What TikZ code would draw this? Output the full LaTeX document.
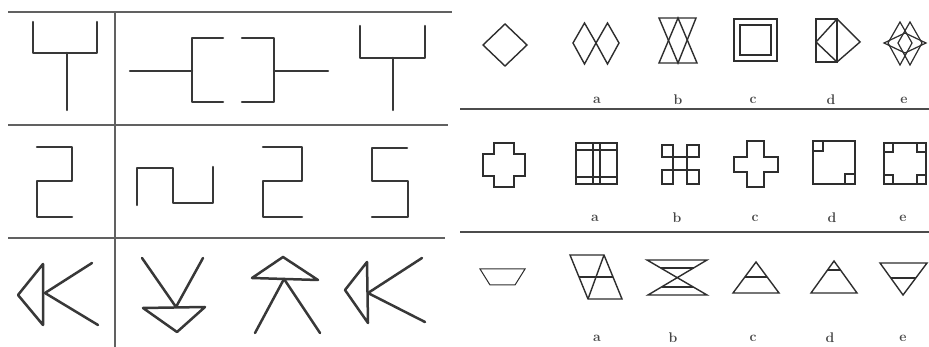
\documentclass[tikz,border=0pt]{standalone}
\begin{document}
\begin{tikzpicture}[x=1pt,y=-1pt,
  fig/.style={draw=black!78, line width=2.5pt, line cap=round, line join=round},
  rfig/.style={draw=black!82, line width=1.4pt, line join=miter},
  frame/.style={draw=black!62, line width=1.4pt},
  rframe/.style={draw=black!70, line width=2.8pt},
  lbl/.style={font=\fontsize{14}{15}\selectfont\bfseries, text=black!72, inner sep=0pt}]
\useasboundingbox (0,0) rectangle (929,347);
\fill[white] (0,0) rectangle (929,347);
% ---------- left panel frame ----------
\draw[frame] (8,12) -- (452,12);
\draw[frame] (8,125) -- (448,125);
\draw[frame] (8,238) -- (445,238);
\draw[frame] (115,12) -- (115,347);
% ---------- left row 1 ----------
\draw[fig] (33,22) -- (33,53) -- (97,53) -- (97,22);
\draw[fig] (67,53) -- (67,110);
\draw[fig] (130,71) -- (192,71);
\draw[fig] (223,38) -- (192,38) -- (192,102) -- (223,102);
\draw[fig] (242,38) -- (274,38) -- (274,102) -- (242,102);
\draw[fig] (274,71) -- (328,71);
\draw[fig] (360,26) -- (360,58) -- (425,58) -- (425,26);
\draw[fig] (393,58) -- (393,110);
% ---------- left row 2 ----------
\draw[fig] (37,147) -- (72,147) -- (72,181) -- (37,181) -- (37,217) -- (72,217);
\draw[fig] (137,205) -- (137,168) -- (173,168) -- (173,203) -- (213,203) -- (213,167);
\draw[fig] (263,147) -- (302,147) -- (302,181) -- (263,181) -- (263,217) -- (302,217);
\draw[fig] (407,148) -- (372,148) -- (372,181) -- (408,181) -- (408,217) -- (372,217);
% ---------- left row 3 ----------
\draw[fig] (43,264) -- (18,295) -- (43,325) -- cycle;
\draw[fig] (92,263) -- (45,293) -- (98,325);
\draw[fig] (142,258) -- (176,307) -- (203,258);
\draw[fig] (143,308) -- (205,307) -- (177,332) -- cycle;
\draw[fig] (283,257) -- (318,280) -- (252,278) -- cycle;
\draw[fig] (255,333) -- (284,279) -- (320,333);
\draw[fig] (367,262) -- (345,290) -- (368,323) -- cycle;
\draw[fig] (422,258) -- (368,293) -- (425,322);
% ---------- right panel frame ----------
\draw[rframe] (460,109) -- (929,109);
\draw[rframe] (460,232) -- (929,232);
% ---------- right row 1 ----------
\draw[rfig] (483,45) -- (505,24) -- (527,45) -- (505,66) -- cycle;
\draw[rfig] (573,43) -- (584.5,23) -- (596,43) -- (584.5,64) -- cycle;
\draw[rfig] (596,43) -- (607.5,23) -- (619,43) -- (607.5,64) -- cycle;
\draw[rfig] (659,18) -- (696,18) -- (678,63) -- cycle;
\draw[rfig] (659,63) -- (697,63) -- (678,18) -- cycle;
\draw[rfig, line width=2.6pt] (734,19) rectangle (777,61);
\draw[rfig, line width=1.8pt] (740,25) rectangle (771,55);
\draw[rfig, line width=1.8pt] (816,19) rectangle (837,62);
\draw[rfig] (816,42) -- (837,19) -- (860,42) -- (837,62) -- cycle;
\draw[rfig, line width=1.2pt] (888,43) -- (900,22) -- (912,43) -- (900,65) -- cycle;
\draw[rfig, line width=1.2pt] (898,43) -- (910,22) -- (922,43) -- (910,65) -- cycle;
\draw[rfig, line width=1.2pt] (884,43) -- (905,33) -- (926,43) -- (905,53) -- cycle;
\node[lbl] (l1a) at (597,100) {a};
\node[lbl] (l1b) at (678,100) {b};
\node[lbl] (l1c) at (753,100) {c};
\node[lbl] (l1d) at (831,100) {d};
\node[lbl] (l1e) at (904,100) {e};
% ---------- right row 2 ----------
\draw[rfig] (494,143) -- (514,143) -- (514,154) -- (525,154) -- (525,176) -- (514,176)
  -- (514,187) -- (494,187) -- (494,176) -- (483,176) -- (483,154) -- (494,154) -- cycle;
\draw[rfig] (576,143) rectangle (617,184);
\draw[rfig] (593,143) -- (593,184);
\draw[rfig] (600,143) -- (600,184);
\draw[rfig] (576,150) -- (617,150);
\draw[rfig] (576,177) -- (617,177);
\draw[rfig] (662,145) rectangle (673,157);
\draw[rfig] (687,145) rectangle (699,157);
\draw[rfig] (662,170) rectangle (673,184);
\draw[rfig] (687,170) rectangle (699,184);
\draw[rfig] (673,157) rectangle (687,170);
\draw[rfig] (747,141) -- (764,141) -- (764,157) -- (778,157) -- (778,172) -- (764,172)
  -- (764,187) -- (747,187) -- (747,172) -- (734,172) -- (734,157) -- (747,157) -- cycle;
\draw[rfig] (813,141) rectangle (855,184);
\draw[rfig] (813,141) rectangle (823,151);
\draw[rfig] (845,174) rectangle (855,184);
\draw[rfig] (884,143) rectangle (926,184);
\draw[rfig] (884,143) rectangle (893,152);
\draw[rfig] (917,143) rectangle (926,152);
\draw[rfig] (884,175) rectangle (893,184);
\draw[rfig] (917,175) rectangle (926,184);
\node[lbl] (l2a) at (595,218) {a};
\node[lbl] (l2b) at (677,218) {b};
\node[lbl] (l2c) at (755,218) {c};
\node[lbl] (l2d) at (832,218) {d};
\node[lbl] (l2e) at (903,218) {e};
% ---------- right row 3 ----------
\draw[rfig, line width=1pt] (480,269) -- (525,269) -- (515,285) -- (490,285) -- cycle;
\draw[rfig] (570,255) -- (604,255) -- (622,299) -- (588,299) -- cycle;
\draw[rfig] (604,255) -- (588,299);
\draw[rfig] (579,277) -- (613,277);
\draw[rfig] (647,260) -- (707,260) -- (648,295) -- (707,295) -- cycle;
\draw[rfig] (660.7,268) -- (693.5,268);
\draw[rfig] (661.5,287) -- (693.3,287);
\draw[rfig] (756,262) -- (779,293) -- (733,293) -- cycle;
\draw[rfig] (745,277) -- (767,277);
\draw[rfig] (834,261) -- (857,293) -- (811,293) -- cycle;
\draw[rfig] (827.5,270) -- (840.5,270);
\draw[rfig] (880,263) -- (927,263) -- (903,295) -- cycle;
\draw[rfig] (891,278) -- (916,278);
\node[lbl] (l3a) at (597,338) {a};
\node[lbl] (l3b) at (673,338) {b};
\node[lbl] (l3c) at (753,338) {c};
\node[lbl] (l3d) at (830,338) {d};
\node[lbl] (l3e) at (903,338) {e};
\end{tikzpicture}
\end{document}
